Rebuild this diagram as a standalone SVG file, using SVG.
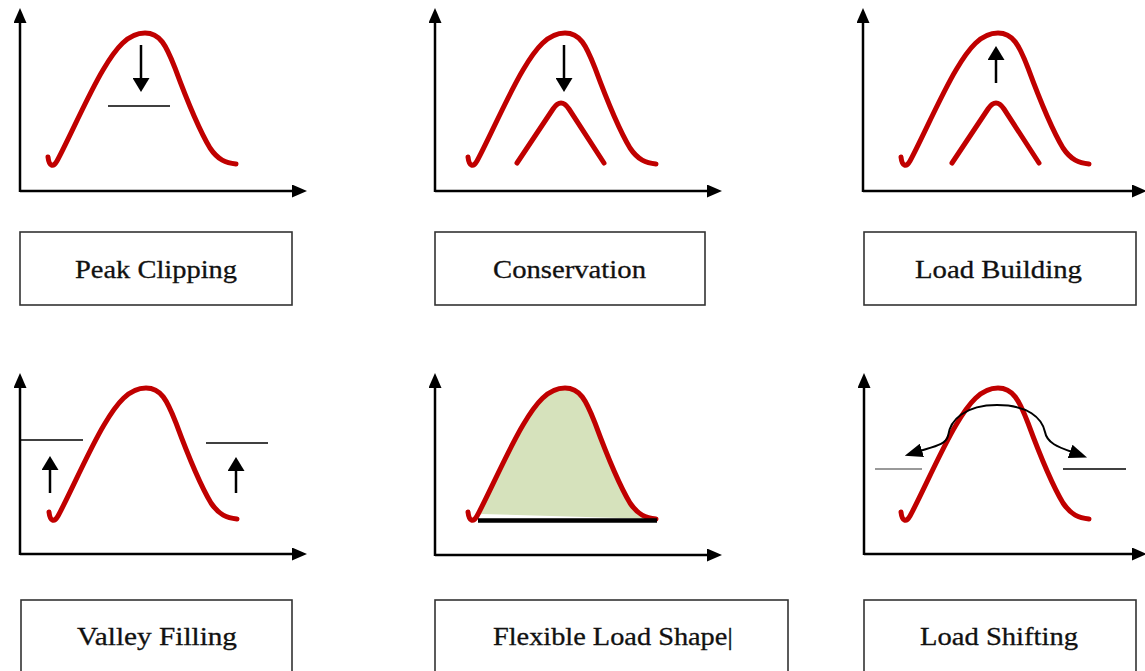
<svg xmlns="http://www.w3.org/2000/svg" xmlns:xlink="http://www.w3.org/1999/xlink" width="1145" height="671" viewBox="0 0 1145 671">
<style>
.axis{stroke:#000;stroke-width:2.5;fill:none}
.load{stroke:#c00000;stroke-width:5;fill:none;stroke-linecap:round;stroke-linejoin:round}
.thin{stroke:#000;stroke-width:1.5}
.arr{stroke:#000;stroke-width:2.5}
.box{fill:#fff;stroke:#333;stroke-width:1.6}
.lbl{font-family:"Liberation Serif","Times New Roman",serif;font-size:25px;fill:#111;stroke:#111;stroke-width:0.3}
</style>
<defs>
<marker id="ah" markerUnits="userSpaceOnUse" markerWidth="15" markerHeight="13" viewBox="0 0 15 13" refX="0" refY="6.5" orient="auto"><path d="M0,0 L15,6.5 L0,13 Z" fill="#000"/></marker>
<marker id="sh" markerUnits="userSpaceOnUse" markerWidth="14" markerHeight="17" viewBox="0 0 14 17" refX="0" refY="8.5" orient="auto"><path d="M0,0 L14,8.5 L0,17 Z" fill="#000"/></marker>
<marker id="ch" markerUnits="userSpaceOnUse" markerWidth="18" markerHeight="14" viewBox="0 0 18 14" refX="2" refY="7" orient="auto-start-reverse"><path d="M0,0 L18,7 L0,14 Z" fill="#000"/></marker>
<path id="curve" d="M48,157 C49,166 53,168 57,161 C67,143 88,95 103,70 C116,48 128,33 145,33 C160,33 166,45 175,68 C185,95 198,128 210,148 C218,160 226,163 236,164"/>
<path id="inner" d="M96,163 L132,109 Q140,97 148,109 L183,163"/>
</defs>

<g id="peak-clipping">
<line class="axis" x1="20" y1="192" x2="20" y2="23" marker-end="url(#ah)"/>
<line class="axis" x1="20" y1="191" x2="292" y2="191" marker-end="url(#ah)"/>
<use xlink:href="#curve" class="load"/>
<line class="arr" x1="141" y1="45" x2="141" y2="78" marker-end="url(#sh)"/>
<line class="thin" x1="108" y1="106" x2="170" y2="106"/>
<rect class="box" x="20" y="232" width="272" height="73"/>
<text class="lbl" x="75" y="278" textLength="162" lengthAdjust="spacingAndGlyphs">Peak Clipping</text>
</g>

<g id="conservation">
<line class="axis" x1="435" y1="192" x2="435" y2="23" marker-end="url(#ah)"/>
<line class="axis" x1="435" y1="191" x2="707" y2="191" marker-end="url(#ah)"/>
<use xlink:href="#curve" class="load" transform="translate(420,0)"/>
<use xlink:href="#inner" class="load" transform="translate(421,0)"/>
<line class="arr" x1="564" y1="45" x2="564" y2="78" marker-end="url(#sh)"/>
<rect class="box" x="435" y="232" width="270" height="73"/>
<text class="lbl" x="493" y="278" textLength="153" lengthAdjust="spacingAndGlyphs">Conservation</text>
</g>

<g id="load-building">
<line class="axis" x1="863" y1="192" x2="863" y2="23" marker-end="url(#ah)"/>
<line class="axis" x1="863" y1="191" x2="1132" y2="191" marker-end="url(#ah)"/>
<use xlink:href="#curve" class="load" transform="translate(853,0)"/>
<use xlink:href="#inner" class="load" transform="translate(856,0)"/>
<line class="arr" x1="996" y1="83" x2="996" y2="60" marker-end="url(#sh)"/>
<rect class="box" x="864" y="232" width="272" height="73"/>
<text class="lbl" x="915" y="278" textLength="167" lengthAdjust="spacingAndGlyphs">Load Building</text>
</g>

<g id="valley-filling">
<line class="axis" x1="20" y1="555" x2="20" y2="388" marker-end="url(#ah)"/>
<line class="axis" x1="20" y1="554" x2="292" y2="554" marker-end="url(#ah)"/>
<use xlink:href="#curve" class="load" transform="translate(1,355)"/>
<line class="thin" x1="20" y1="440" x2="83" y2="440"/>
<line class="thin" x1="206" y1="443" x2="268" y2="443"/>
<line class="arr" x1="50" y1="493" x2="50" y2="470" marker-end="url(#sh)"/>
<line class="arr" x1="236" y1="493" x2="236" y2="471" marker-end="url(#sh)"/>
<rect class="box" x="21" y="600" width="271" height="80"/>
<text class="lbl" x="77" y="645" textLength="160" lengthAdjust="spacingAndGlyphs">Valley Filling</text>
</g>

<g id="flexible-load-shape">
<line class="axis" x1="435" y1="556" x2="435" y2="388" marker-end="url(#ah)"/>
<line class="axis" x1="435" y1="555" x2="707" y2="555" marker-end="url(#ah)"/>
<path transform="translate(420,355)" fill="#d6e2bc" d="M57,161 C67,143 88,95 103,70 C116,48 128,33 145,33 C160,33 166,45 175,68 C185,95 198,128 210,148 C218,160 226,163 236,164 L62,159 Z"/>
<use xlink:href="#curve" class="load" transform="translate(420,355)"/>
<line stroke="#000" stroke-width="4.5" x1="478" y1="520.5" x2="657" y2="520.5"/>
<rect class="box" x="435" y="600" width="353" height="80"/>
<text class="lbl" x="493" y="645" textLength="240" lengthAdjust="spacingAndGlyphs">Flexible Load Shape|</text>
</g>

<g id="load-shifting">
<line class="axis" x1="864" y1="555" x2="864" y2="388" marker-end="url(#ah)"/>
<line class="axis" x1="864" y1="554" x2="1132" y2="554" marker-end="url(#ah)"/>
<use xlink:href="#curve" class="load" transform="translate(853,355)"/>
<line stroke="#777" stroke-width="1.5" x1="875" y1="469" x2="922" y2="469"/>
<line class="thin" x1="1063" y1="469" x2="1126" y2="469"/>
<rect class="box" x="864" y="600" width="272" height="80"/>
<text class="lbl" x="920" y="645" textLength="158" lengthAdjust="spacingAndGlyphs">Load Shifting</text>
</g>

<g id="connectors">
<path d="M920,451 C936,446 946,444 948,436 C950,420 965,405 997,405 C1028,405 1042,418 1045,432 C1047,443 1058,447 1072,452" fill="none" stroke="#000" stroke-width="2" marker-start="url(#ch)" marker-end="url(#ch)"/>
</g>
</svg>
